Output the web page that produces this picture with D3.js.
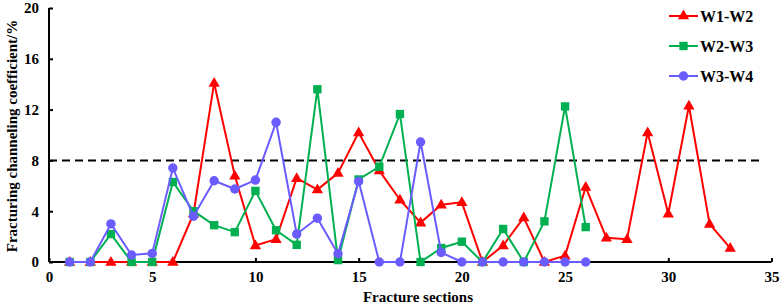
<!DOCTYPE html>
<html>
<head>
<meta charset="utf-8">
<script src="https://cdn.jsdelivr.net/npm/d3@7"></script>
<style>
  html, body { margin: 0; padding: 0; background: #fff; }
  svg { display: block; }
  text { font-family: "Liberation Serif", "Times New Roman", serif; font-weight: bold; fill: #000; }
</style>
</head>
<body>
<svg id="chart" width="782" height="304"></svg>
<script>
const sectionsW1W2 = d3.range(1, 34);
const valuesW1W2 = [0, 0, 0, 0, 0, 0, 3.8, 14.1, 6.8, 1.3, 1.8, 6.6, 5.7, 7.0, 10.2, 7.2, 4.9, 3.1, 4.5, 4.7,
                    0, 1.3, 3.5, 0, 0.5, 5.9, 1.9, 1.8, 10.2, 3.8, 12.3, 3.0, 1.1];
const sectionsW2W3 = d3.range(1, 27);
const valuesW2W3 = [0, 0, 2.2, 0, 0, 6.3, 4.0, 2.9, 2.35, 5.6, 2.5, 1.35, 13.6, 0.15, 6.5, 7.5, 11.65, 0, 1.1, 1.6,
                    0, 2.6, 0, 3.2, 12.25, 2.75];
const sectionsW3W4 = d3.range(1, 27);
const valuesW3W4 = [0, 0, 3.0, 0.55, 0.68, 7.4, 3.6, 6.4, 5.75, 6.45, 11.0, 2.2, 3.45, 0.65, 6.35, 0, 0, 9.45, 0.75, 0,
                    0, 0, 0, 0, 0, 0];
const seriesNames = ["W1-W2", "W2-W3", "W3-W4"];
const seriesColors = ["#ff0000", "#00b050", "#6b5cff"];
const seriesMarkers = ["triangle", "square", "circle"];
const xTicks = [0, 5, 10, 15, 20, 25, 30, 35];
const yTicks = [0, 4, 8, 12, 16, 20];
const thresholdValue = 8;
const thresholdExtent = [0, 34.4];

const svg = d3.select("#chart");
const x = d3.scaleLinear().domain([0, 35]).range([49, 771.5]);
const y = d3.scaleLinear().domain([0, 20]).range([262, 8]);

// axes
const xAxis = d3.axisBottom(x).tickValues(xTicks).tickSize(-4).tickPadding(9).tickFormat(d3.format("d"));
const yAxis = d3.axisLeft(y).tickValues(yTicks).tickSize(-4).tickPadding(10).tickFormat(d3.format("d"));

const gx = svg.append("g").attr("transform", `translate(0,${y(0)})`).call(xAxis);
const gy = svg.append("g").attr("transform", `translate(${x(0)},0)`).call(yAxis);
[gx, gy].forEach(g => {
  g.select(".domain").attr("stroke", "#000").attr("stroke-width", 2);
  g.selectAll(".tick line").attr("stroke", "#000").attr("stroke-width", 2);
  g.selectAll(".tick text").attr("font-family", "Liberation Serif").attr("font-weight", "bold")
    .attr("font-size", 15).attr("fill", "#000");
});
gx.select(".domain").attr("d", `M${x(0)},0H${x(35)}`);
gy.select(".domain").attr("d", `M0,${y(0)}V${y(20)}`);

// threshold dashed line
svg.append("line")
  .attr("x1", x(thresholdExtent[0])).attr("x2", x(thresholdExtent[1]))
  .attr("y1", y(thresholdValue)).attr("y2", y(thresholdValue))
  .attr("stroke", "#000").attr("stroke-width", 2).attr("stroke-dasharray", "8,5");

const symbolTypes = { triangle: d3.symbolTriangle, square: d3.symbolSquare, circle: d3.symbolCircle };
const symbolSizes = { triangle: 55, square: 70, circle: 70 };

const allSeries = [
  { xs: sectionsW1W2, ys: valuesW1W2 },
  { xs: sectionsW2W3, ys: valuesW2W3 },
  { xs: sectionsW3W4, ys: valuesW3W4 }
];

const line = d3.line().x(d => x(d[0])).y(d => y(d[1]));

allSeries.forEach((s, i) => {
  const pts = s.xs.map((v, j) => [v, s.ys[j]]);
  const g = svg.append("g");
  g.append("path").datum(pts).attr("d", line).attr("fill", "none")
    .attr("stroke", seriesColors[i]).attr("stroke-width", 2).attr("stroke-linejoin", "round");
  const sym = d3.symbol().type(symbolTypes[seriesMarkers[i]]).size(symbolSizes[seriesMarkers[i]]);
  g.selectAll("path.m").data(pts).join("path").attr("class", "m")
    .attr("d", sym)
    .attr("transform", d => `translate(${x(d[0])},${y(d[1]) + (seriesMarkers[i] === "triangle" ? 0.5 : 0)})`)
    .attr("fill", seriesColors[i]);
});

// legend
const legendY = [16, 46, 76];
seriesNames.forEach((name, i) => {
  const g = svg.append("g").attr("transform", `translate(669,${legendY[i]})`);
  g.append("line").attr("x1", 0).attr("x2", 29).attr("y1", 0).attr("y2", 0)
    .attr("stroke", seriesColors[i]).attr("stroke-width", 2);
  const sym = d3.symbol().type(symbolTypes[seriesMarkers[i]]).size(symbolSizes[seriesMarkers[i]]);
  g.append("path").attr("d", sym).attr("transform", "translate(14.5,0)").attr("fill", seriesColors[i]);
  g.append("text").attr("x", 31).attr("y", 0).attr("dy", "0.35em").attr("font-size", 16).text(name);
});

// axis titles
svg.append("text").attr("x", 418).attr("y", 302).attr("text-anchor", "middle")
  .attr("font-size", 15).text("Fracture sections");
svg.append("text").attr("transform", "translate(17,136) rotate(-90)").attr("text-anchor", "middle")
  .attr("font-size", 15).text("Fracturing channeling coefficient/%");
</script>
</body>
</html>
